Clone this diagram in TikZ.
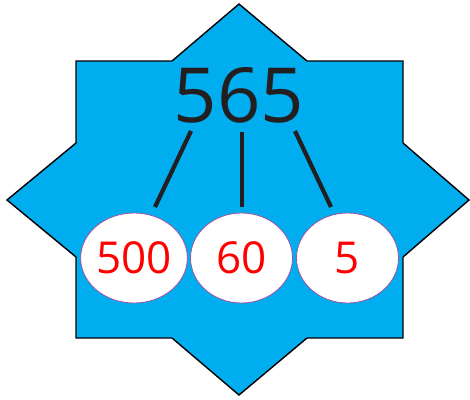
\documentclass[tikz,border=0pt]{standalone}
\usepackage{fontspec}
\setmainfont{Open Sans}
\usetikzlibrary{shapes.geometric}
\definecolor{starblue}{HTML}{00AEEF}
\definecolor{darktext}{HTML}{231F20}
\definecolor{rimpurple}{HTML}{9E4F9E}
\tikzset{
  part/.style={ellipse, draw=rimpurple, line width=0.8pt, fill=white, minimum width=102pt, minimum height=90pt, inner sep=0pt, text=red, font=\fontsize{44}{44}\selectfont},
  branch/.style={draw=darktext, line width=4.2pt},
}
\begin{document}
\begin{tikzpicture}[x=1pt,y=-1pt]
\useasboundingbox (0,0) rectangle (470,399);
\draw[fill=starblue, line width=1.4pt, line join=miter]
  (239,4) -- (307,61) -- (403,61) -- (403,143) -- (469,200) -- (403,257) -- (403,338)
  -- (307,338) -- (239,395) -- (172,338) -- (76,338) -- (76,257) -- (7,200)
  -- (76,143) -- (76,61) -- (172,61) -- cycle;
\node[anchor=base, inner sep=0pt, text=darktext, font=\fontsize{76}{76}\selectfont] (whole) at (239,122) {565};
\node[part] (hund) at (134,258) {500};
\node[part] (tens) at (241.5,258) {60};
\node[part] (ones) at (347.5,258) {5};
\coordinate (t1) at (191,131);
\coordinate (t2) at (242,132);
\coordinate (t3) at (295,131);
\coordinate (b1) at (155,207);
\coordinate (b2) at (242,207);
\coordinate (b3) at (331,207);
\draw[branch] (t1) -- (b1);
\draw[branch] (t2) -- (b2);
\draw[branch] (t3) -- (b3);
\end{tikzpicture}
\end{document}
